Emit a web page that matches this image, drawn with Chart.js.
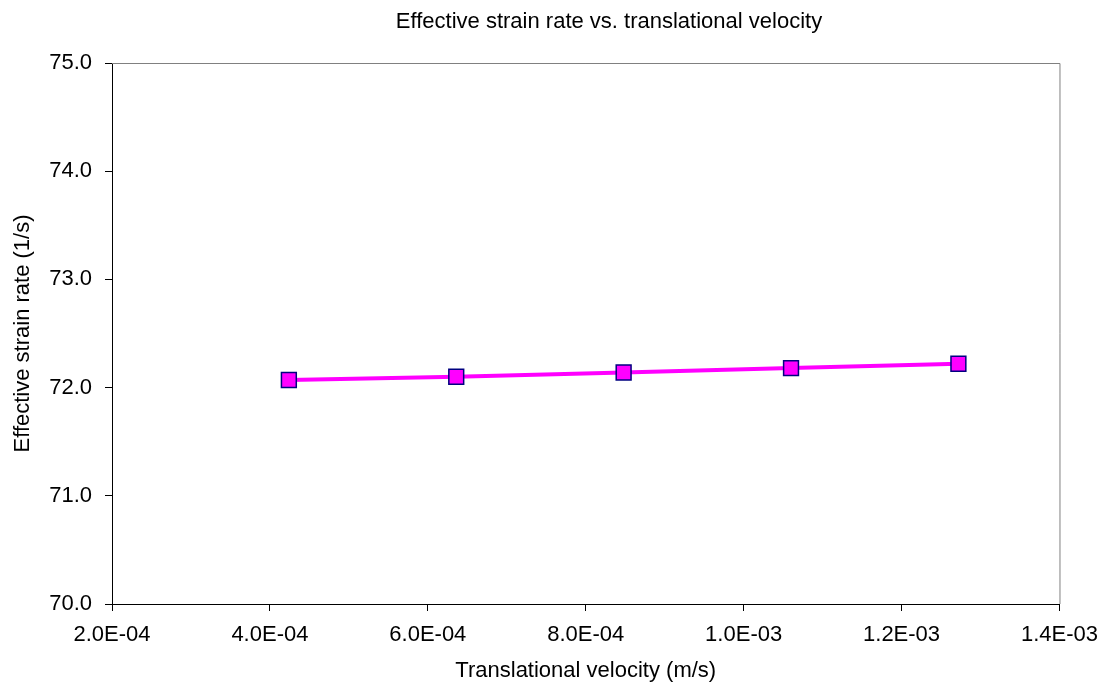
<!DOCTYPE html>
<html>
<head>
<meta charset="utf-8">
<title>Effective strain rate vs. translational velocity</title>
<script src="https://cdn.jsdelivr.net/npm/chart.js@4/dist/chart.umd.min.js"></script>
<style>
  html, body { margin: 0; padding: 0; background: #fff; }
  #chart { display: block; }
</style>
</head>
<body>
<canvas id="chart" width="1109" height="689"></canvas>
<script>
// data
const velocity = [4.24e-4, 6.36e-4, 8.48e-4, 1.06e-3, 1.272e-3];
const strainRate = [72.07, 72.10, 72.14, 72.18, 72.22];

const xTickValues = [2e-4, 4e-4, 6e-4, 8e-4, 1e-3, 1.2e-3, 1.4e-3];
const xTickLabels = ["2.0E-04", "4.0E-04", "6.0E-04", "8.0E-04", "1.0E-03", "1.2E-03", "1.4E-03"];
const yTickValues = [70, 71, 72, 73, 74, 75];
const yTickLabels = ["70.0", "71.0", "72.0", "73.0", "74.0", "75.0"];

const FONT = "'Liberation Sans', Arial, sans-serif";

// gray top/right frame + chart title (Excel style)
const framePlugin = {
  id: "frame",
  afterDraw(chart) {
    const { ctx, chartArea: a } = chart;
    ctx.save();
    ctx.strokeStyle = "#808080";
    ctx.lineWidth = 1;
    ctx.beginPath();
    ctx.moveTo(a.left, a.top + 0.5);
    ctx.lineTo(a.right + 0.5, a.top + 0.5);
    ctx.lineTo(a.right + 0.5, a.bottom);
    ctx.stroke();

    ctx.fillStyle = "#000";
    ctx.font = "22px " + FONT;
    ctx.textAlign = "center";
    ctx.textBaseline = "middle";
    ctx.fillText("Effective strain rate vs. translational velocity", 609, 22);
    ctx.restore();
  }
};

const ctx = document.getElementById("chart").getContext("2d");

new Chart(ctx, {
  type: "scatter",
  data: {
    datasets: [
      {
        label: "Effective strain rate",
        data: velocity.map((v, i) => ({ x: v, y: strainRate[i] })),
        showLine: true,
        borderColor: "#FF00FF",
        borderWidth: 4,
        pointStyle: "rect",
        pointRadius: 10.5,
        pointHoverRadius: 10.5,
        pointBackgroundColor: "#FF00FF",
        pointBorderColor: "#000080",
        pointBorderWidth: 1.5
      }
    ]
  },
  options: {
    responsive: false,
    animation: false,
    layout: {
      padding: { top: 63, right: 48, bottom: 0, left: 0 }
    },
    plugins: {
      legend: { display: false },
      tooltip: { enabled: false }
    },
    scales: {
      x: {
        type: "linear",
        min: 2e-4,
        max: 1.4e-3,
        afterBuildTicks: (scale) => {
          scale.ticks = xTickValues.map((v) => ({ value: v }));
        },
        afterFit: (scale) => { scale.height = 85; },
        grid: {
          display: true,
          drawOnChartArea: false,
          drawTicks: true,
          tickLength: 7,
          color: "#000",
          tickColor: "#000"
        },
        border: { display: true, color: "#000", width: 1 },
        ticks: {
          maxRotation: 0,
          autoSkip: false,
          padding: 11,
          color: "#000",
          font: { family: FONT, size: 22 },
          callback: (v, i) => xTickLabels[i]
        },
        title: {
          display: true,
          text: "Translational velocity (m/s)",
          color: "#000",
          font: { family: FONT, size: 22 },
          padding: { top: 0, bottom: 5 }
        }
      },
      y: {
        type: "linear",
        min: 70,
        max: 75,
        afterBuildTicks: (scale) => {
          scale.ticks = yTickValues.map((v) => ({ value: v }));
        },
        afterFit: (scale) => { scale.width = 112; },
        grid: {
          display: true,
          drawOnChartArea: false,
          drawTicks: true,
          tickLength: 7,
          color: "#000",
          tickColor: "#000"
        },
        border: { display: true, color: "#000", width: 1 },
        ticks: {
          padding: 13,
          color: "#000",
          font: { family: FONT, size: 22 },
          callback: (v, i) => yTickLabels[i]
        },
        title: {
          display: true,
          text: "Effective strain rate (1/s)",
          color: "#000",
          font: { family: FONT, size: 22 },
          padding: { top: 10, bottom: 0 }
        }
      }
    }
  },
  plugins: [framePlugin]
});
</script>
</body>
</html>
